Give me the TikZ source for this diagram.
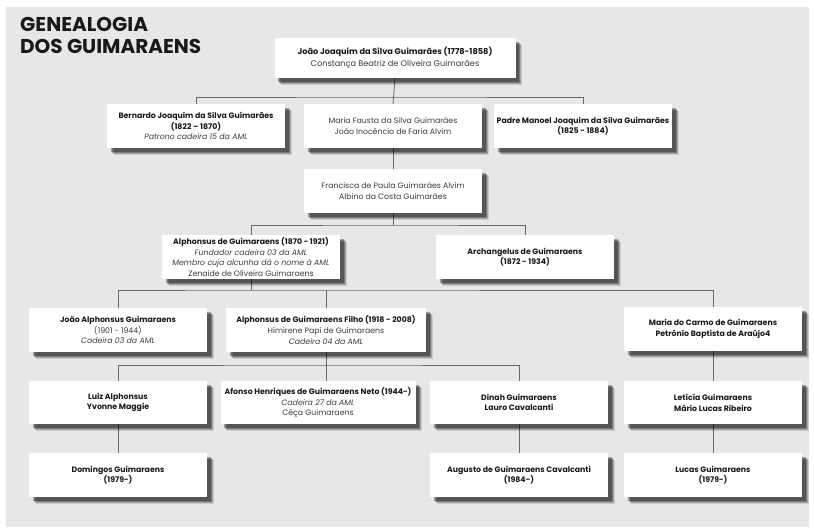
\documentclass[tikz,border=0pt]{standalone}
\usepackage{fontspec}
\setmainfont{Poppins}
\usetikzlibrary{shadows}

\definecolor{gmpanel}{RGB}{231,231,232}
\definecolor{gmline}{RGB}{105,105,105}
\definecolor{gmdark}{RGB}{25,25,25}
\definecolor{gmsoft}{RGB}{60,60,60}

\pgfdeclarelayer{panel}
\pgfdeclarelayer{links}
\pgfsetlayers{panel,links,main}

\begin{document}
\begin{tikzpicture}[x=1pt, y=-1pt,
  caixa/.style={rectangle, fill=white, align=center, text=gmsoft,
    minimum width=178pt, minimum height=44pt, inner sep=2pt,
    font=\fontsize{7.8}{10.6}\selectfont,
    drop shadow={shadow xshift=6.5pt, shadow yshift=-7pt, opacity=0.12, fill=black},
    drop shadow={shadow xshift=5.5pt, shadow yshift=-6pt, opacity=0.18, fill=black},
    drop shadow={shadow xshift=4.5pt, shadow yshift=-5pt, opacity=0.25, fill=black},
    drop shadow={shadow xshift=3.5pt, shadow yshift=-4pt, opacity=0.3, fill=black}},
  link/.style={draw=gmline, line width=0.8pt}]
\useasboundingbox (0,0) rectangle (814,529);
\begin{pgfonlayer}{panel}
\fill[gmpanel] (6,7) rectangle (809,527);
\end{pgfonlayer}

% Title
\node[anchor=north west, align=left, inner sep=0pt, text=gmdark, font=\fontsize{20}{22.5}\selectfont\bfseries] (title) at (20,17) {GENEALOGIA\\DOS GUIMARAENS};

% Generation 1
\node[caixa, minimum width=241pt, minimum height=40pt, font=\fontsize{8.2}{11.5}\selectfont] (joao) at (395,58) {\textcolor{gmdark}{\textbf{João Joaquim da Silva Guimarães (1778-1858)}}\\Constança Beatriz de Oliveira Guimarães};

% Generation 2
\node[caixa] (bernardo) at (196,126) {\textcolor{gmdark}{\textbf{Bernardo Joaquim da Silva Guimarães}}\\\textcolor{gmdark}{\textbf{(1822 – 1870)}}\\\textit{Patrono cadeira 15 da AML}};
\node[caixa] (fausta) at (393,126) {Maria Fausta da Silva Guimarães\\João Inocêncio de Faria Alvim};
\node[caixa] (padre) at (583,126) {\textcolor{gmdark}{\textbf{Padre Manoel Joaquim da Silva Guimarães}}\\\textcolor{gmdark}{\textbf{(1825 - 1884)}}};

% Generation 3
\node[caixa] (francisca) at (393,191) {Francisca de Paula Guimarães Alvim\\Albino da Costa Guimarães};

% Generation 4
\node[caixa] (alphonsus) at (251,257) {\textcolor{gmdark}{\textbf{Alphonsus de Guimaraens (1870 - 1921)}}\\\textit{Fundador cadeira 03 da AML}\\\textit{Membro cuja alcunha dá o nome à AML}\\Zenaide de Oliveira Guimaraens};
\node[caixa] (archangelus) at (525,257) {\textcolor{gmdark}{\textbf{Archangelus de Guimaraens}}\\\textcolor{gmdark}{\textbf{(1872 - 1934)}}};

% Generation 5
\node[caixa] (joaoalph) at (118,330) {\textcolor{gmdark}{\textbf{João Alphonsus Guimaraens}}\\(1901 - 1944)\\\textit{Cadeira 03 da AML}};
\node[caixa, minimum width=200pt] (filho) at (326,330) {\textcolor{gmdark}{\textbf{Alphonsus de Guimaraens Filho (1918 - 2008)}}\\Himirene Papi de Guimaraens\\\textit{Cadeira 04 da AML}};
\node[caixa] (carmo) at (713,329) {\textcolor{gmdark}{\textbf{Maria do Carmo de Guimaraens}}\\\textcolor{gmdark}{\textbf{Petrônio Baptista de Araújo4}}};

% Generation 6
\node[caixa, minimum height=43pt] (luiz) at (118,402.5) {\textcolor{gmdark}{\textbf{Luiz Alphonsus}}\\\textcolor{gmdark}{\textbf{Yvonne Maggie}}};
\node[caixa, minimum width=195pt, minimum height=43pt] (afonso) at (318,402.5) {\textcolor{gmdark}{\textbf{Afonso Henriques de Guimaraens Neto (1944-)}}\\\textit{Cadeira 27 da AML}\\Cêça Guimaraens};
\node[caixa, minimum height=43pt] (dinah) at (519,402.5) {\textcolor{gmdark}{\textbf{Dinah Guimaraens}}\\\textcolor{gmdark}{\textbf{Lauro Cavalcanti}}};
\node[caixa, minimum height=43pt] (leticia) at (713,402.5) {\textcolor{gmdark}{\textbf{Letícia Guimaraens}}\\\textcolor{gmdark}{\textbf{Mário Lucas Ribeiro}}};

% Generation 7
\node[caixa] (domingos) at (118,475) {\textcolor{gmdark}{\textbf{Domingos Guimaraens}}\\\textcolor{gmdark}{\textbf{(1979-)}}};
\node[caixa] (augusto) at (519,475) {\textcolor{gmdark}{\textbf{Augusto de Guimaraens Cavalcanti}}\\\textcolor{gmdark}{\textbf{(1984-)}}};
\node[caixa] (lucas) at (713,475) {\textcolor{gmdark}{\textbf{Lucas Guimaraens}}\\\textcolor{gmdark}{\textbf{(1979-)}}};

% Junctions
\coordinate (g1) at (393,97);
\coordinate (g2) at (393,225);
\coordinate (g3) at (251,290);
\coordinate (g4) at (326,365);

% Links
\begin{pgfonlayer}{links}
\draw[link] (bernardo.north) |- (g1) -| (padre.north);
\draw[link] (joao.south) -- (fausta.north);
\draw[link] (fausta.south) -- (francisca.north);
\draw[link] (alphonsus.north) |- (g2) -| (archangelus.north);
\draw[link] (francisca.south) -- (g2);
\draw[link] (joaoalph.north) |- (g3) -| (carmo.north);
\draw[link] (alphonsus.south) -- (g3);
\draw[link] (filho.north) -- (filho.north |- g3);
\draw[link] (luiz.north) |- (g4) -| (dinah.north);
\draw[link] (filho.south) -- (filho.south |- afonso.north);
\draw[link] (carmo.south) -- (leticia.north);
\draw[link] (luiz.south) -- (domingos.north);
\draw[link] (dinah.south) -- (augusto.north);
\draw[link] (leticia.south) -- (lucas.north);
\end{pgfonlayer}
\end{tikzpicture}
\end{document}
